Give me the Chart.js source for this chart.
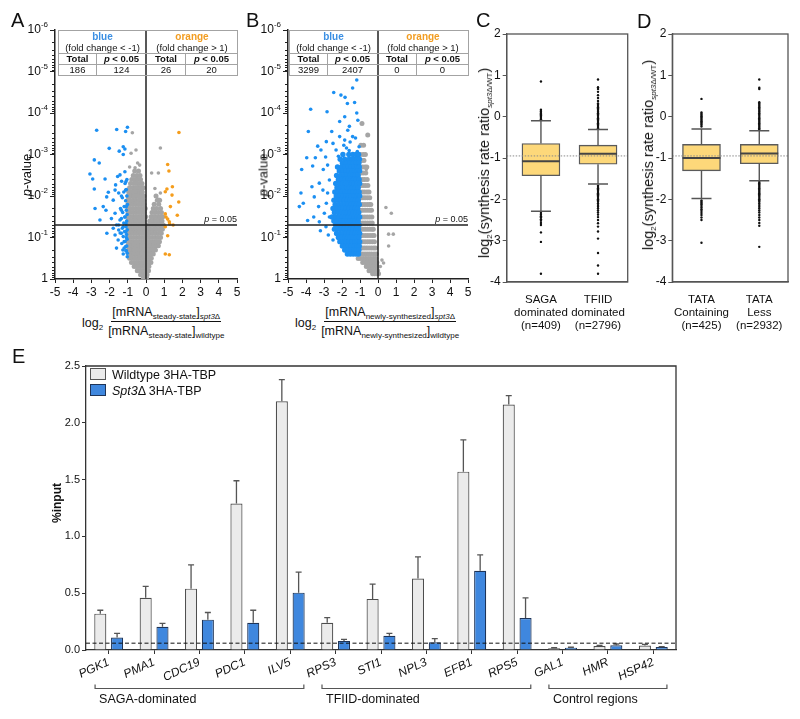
<!DOCTYPE html>
<html>
<head>
<meta charset="utf-8">
<title>Spt3 figure</title>
<script src="https://cdn.jsdelivr.net/npm/chart.js@4.4.1/dist/chart.umd.min.js"></script>
<style>
  body { margin: 0; background: #fff; }
  #fig { position: relative; width: 800px; height: 719px; overflow: hidden; font-family: "Liberation Sans", Arial, sans-serif; color: #111; }
  #fig canvas { position: absolute; }
  .lbl { position: absolute; font-size: 20px; line-height: 20px; }
  .rot { position: absolute; white-space: nowrap; transform: translate(-50%, -50%) rotate(-90deg); }
  .tbl { position: absolute; border-collapse: collapse; table-layout: fixed; font-size: 9.5px; text-align: center; }
  .tbl td { border: 1px solid #a3a3a3; padding: 0; line-height: 10px; white-space: nowrap; }
  .tbl .t1 { border-bottom-style: hidden; font-weight: bold; font-size: 10px; }
  .tbl .b { font-weight: bold; }
  .tbl .l { border-right-color: transparent; }
  .tbl .r { border-left-color: transparent; }
  .xt { position: absolute; display: flex; align-items: center; font-size: 12.5px; white-space: nowrap; }
  .xt .lg { position: relative; top: 1px; margin-right: 5px; }
  .frac { display: inline-flex; flex-direction: column; align-items: center; }
  .frac .num { line-height: 14px; padding: 0 1px 2px; border-bottom: 1px solid #111; }
  .frac .den { line-height: 14px; padding-top: 2px; }
  sub { font-size: 8px; vertical-align: -3px; line-height: 0; }
  .leg { position: absolute; font-size: 12.5px; line-height: 13px; white-space: nowrap; }
  .sw { display: inline-block; width: 14px; height: 10px; border: 1px solid #555; margin-right: 6px; vertical-align: -1px; }
</style>
</head>
<body>
<div id="fig">
  <canvas id="cA" width="245" height="305" style="left:0;top:0"></canvas>
  <canvas id="cB" width="225" height="305" style="left:250px;top:0"></canvas>
  <canvas id="cC" width="150" height="345" style="left:488px;top:0"></canvas>
  <canvas id="cD" width="142" height="345" style="left:654px;top:0"></canvas>
  <canvas id="cE" width="800" height="379" style="left:0;top:340px"></canvas>

  <div class="lbl" style="left:11px;top:10px">A</div>
  <div class="lbl" style="left:246px;top:10px">B</div>
  <div class="lbl" style="left:476px;top:10px">C</div>
  <div class="lbl" style="left:637px;top:11px">D</div>
  <div class="lbl" style="left:12px;top:346px">E</div>

  <table class="tbl" style="left:58px;top:30px;width:179px">
    <colgroup><col style="width:38px"><col style="width:50px"><col style="width:39px"><col style="width:52px"></colgroup>
    <tr style="height:12px"><td colspan="2" class="t1 l" style="color:#3b8fe3">blue</td><td colspan="2" class="t1 r" style="color:#f29d22">orange</td></tr>
    <tr style="height:11px"><td colspan="2" class="l">(fold change &lt; -1)</td><td colspan="2" class="r">(fold change &gt; 1)</td></tr>
    <tr style="height:11px"><td class="b">Total</td><td class="b l"><i>p</i> &lt; 0.05</td><td class="b r">Total</td><td class="b"><i>p</i> &lt; 0.05</td></tr>
    <tr style="height:10px"><td>186</td><td class="l">124</td><td class="r">26</td><td>20</td></tr>
  </table>
  <table class="tbl" style="left:289px;top:30px;width:179px">
    <colgroup><col style="width:38px"><col style="width:50px"><col style="width:39px"><col style="width:52px"></colgroup>
    <tr style="height:12px"><td colspan="2" class="t1 l" style="color:#3b8fe3">blue</td><td colspan="2" class="t1 r" style="color:#f29d22">orange</td></tr>
    <tr style="height:11px"><td colspan="2" class="l">(fold change &lt; -1)</td><td colspan="2" class="r">(fold change &gt; 1)</td></tr>
    <tr style="height:11px"><td class="b">Total</td><td class="b l"><i>p</i> &lt; 0.05</td><td class="b r">Total</td><td class="b"><i>p</i> &lt; 0.05</td></tr>
    <tr style="height:10px"><td>3299</td><td class="l">2407</td><td class="r">0</td><td>0</td></tr>
  </table>

  <div class="rot" style="left:26px;top:175px;font-size:13px"><i>p</i>-value</div>
  <div class="rot" style="left:263px;top:175px;font-size:13px"><i>p</i>-value</div>
  <div class="rot" style="left:484px;top:163px;font-size:14.5px">log<sub>2</sub>(synthesis rate ratio<sub><i>spt3</i>Δ/WT</sub>)</div>
  <div class="rot" style="left:648px;top:155px;font-size:14.5px">log<sub>2</sub>(synthesis rate ratio<sub><i>spt3</i>Δ/WT</sub>)</div>
  <div class="rot" style="left:57px;top:503px;font-size:12px;font-weight:bold">%input</div>

  <div class="xt" style="left:82px;top:305px">
    <span class="lg">log<sub>2</sub></span>
    <span class="frac"><span class="num">[mRNA<sub>steady-state</sub>]<sub><i>spt3</i>Δ</sub></span><span class="den">[mRNA<sub>steady-state</sub>]<sub>wildtype</sub></span></span>
  </div>
  <div class="xt" style="left:295px;top:305px">
    <span class="lg">log<sub>2</sub></span>
    <span class="frac"><span class="num">[mRNA<sub>newly-synthesized</sub>]<sub><i>spt3</i>Δ</sub></span><span class="den">[mRNA<sub>newly-synthesized</sub>]<sub>wildtype</sub></span></span>
  </div>

  <div class="leg" style="left:90px;top:368px"><span class="sw" style="background:#ebebeb"></span>Wildtype 3HA-TBP</div>
  <div class="leg" style="left:90px;top:384px"><span class="sw" style="background:#3f87de;border-color:#1e3458"></span><i>Spt3</i>Δ 3HA-TBP</div>
</div>

<script>
// ---- volcano plots (A, B): [log2 fold change, p-value] ----
const pTicks = [1e-6, 1e-5, 1e-4, 1e-3, 1e-2, 1e-1, 1];
const pExp = ['-6', '-5', '-4', '-3', '-2', '-1', ''];
const pCut = 0.05;

// dense cloud written as [p, [x values at that p]]
const aGrayRows = [
  [0.0025, [-0.62, -0.41]],
  [0.0032, [-0.7, -0.5, -0.33]],
  [0.004, [-0.78, -0.6, -0.45, -0.3]],
  [0.005, [-0.85, -0.66, -0.5, -0.34, -0.22]],
  [0.0063, [-0.9, -0.72, -0.56, -0.41, -0.27, -0.15]],
  [0.008, [-0.95, -0.8, -0.63, -0.47, -0.32, -0.2]],
  [0.01, [-0.98, -0.83, -0.67, -0.52, -0.37, -0.23, -0.12, 0.55]],
  [0.0126, [-1.0, -0.86, -0.7, -0.55, -0.4, -0.26, -0.13, 0.62, 0.75]],
  [0.0158, [-0.99, -0.84, -0.69, -0.54, -0.39, -0.25, -0.11, 0.45, 0.7]],
  [0.02, [-1.0, -0.87, -0.72, -0.57, -0.42, -0.28, -0.14, -0.04, 0.4, 0.58, 0.8]],
  [0.025, [-0.98, -0.83, -0.68, -0.53, -0.38, -0.24, -0.1, 0.33, 0.5, 0.68, 0.85]],
  [0.0316, [-1.0, -0.86, -0.71, -0.56, -0.41, -0.27, -0.13, -0.02, 0.28, 0.45, 0.62, 0.78, 0.92]],
  [0.04, [-0.99, -0.84, -0.69, -0.54, -0.39, -0.25, -0.11, 0.2, 0.38, 0.55, 0.72, 0.88]],
  [0.05, [-1.0, -0.87, -0.72, -0.57, -0.42, -0.28, -0.14, -0.03, 0.14, 0.3, 0.47, 0.64, 0.8, 0.95]],
  [0.063, [-0.98, -0.83, -0.68, -0.53, -0.38, -0.24, -0.1, 0.1, 0.25, 0.42, 0.58, 0.75, 0.9]],
  [0.079, [-1.0, -0.86, -0.71, -0.56, -0.41, -0.27, -0.13, -0.02, 0.08, 0.22, 0.38, 0.54, 0.7, 0.84]],
  [0.1, [-0.97, -0.82, -0.67, -0.52, -0.37, -0.23, -0.09, 0.06, 0.19, 0.34, 0.5, 0.65, 0.8]],
  [0.126, [-0.99, -0.85, -0.7, -0.55, -0.4, -0.26, -0.12, -0.02, 0.05, 0.17, 0.3, 0.45, 0.6, 0.74]],
  [0.158, [-0.98, -0.83, -0.68, -0.53, -0.38, -0.24, -0.1, 0.04, 0.15, 0.28, 0.42, 0.56, 0.68]],
  [0.2, [-0.97, -0.82, -0.67, -0.52, -0.37, -0.23, -0.09, 0.04, 0.14, 0.26, 0.39, 0.52]],
  [0.25, [-0.95, -0.8, -0.65, -0.5, -0.36, -0.22, -0.08, 0.05, 0.15, 0.27, 0.4]],
  [0.316, [-0.9, -0.75, -0.6, -0.46, -0.32, -0.19, -0.06, 0.06, 0.17, 0.29]],
  [0.4, [-0.8, -0.66, -0.52, -0.39, -0.26, -0.13, -0.02, 0.08, 0.18, 0.27]],
  [0.5, [-0.65, -0.52, -0.4, -0.28, -0.16, -0.05, 0.06, 0.16]],
  [0.63, [-0.48, -0.36, -0.25, -0.14, -0.04, 0.06, 0.14]],
  [0.79, [-0.3, -0.2, -0.1, -0.02, 0.06]],
  [0.95, [-0.14, -0.05, 0.03]]
];
const aGraySparse = [
  [-0.75, 3e-4], [-0.55, 7.8e-4], [-0.82, 9.3e-4], [-0.46, 1.6e-3], [-0.6, 2.1e-3], [0.79, 7e-4],
  [0.31, 2.8e-3], [0.68, 2.8e-3], [0.49, 6.6e-3], [0.79, 8.5e-3], [0.68, 1.2e-2], [-0.5, 3.7e-3],
  [-0.65, 4.9e-3], [-0.42, 6e-3], [-0.9, 2e-3], [-0.35, 1.8e-3]
];
const aBlue = [
  [-2.71, 2.6e-4], [-1.61, 2.5e-4], [-1.02, 2.2e-4], [-1.12, 2.8e-4], [-2.02, 7.1e-4], [-1.47, 8.3e-4],
  [-1.25, 6.5e-4], [-1.16, 7.4e-4], [-1.25, 1.0e-3], [-2.84, 1.35e-3], [-2.57, 1.6e-3], [-3.08, 2.95e-3],
  [-2.93, 3.9e-3], [-2.25, 3.9e-3], [-2.84, 6.8e-3], [-1.43, 3.1e-3], [-1.56, 3.4e-3], [-1.16, 2.6e-3],
  [-1.34, 4.4e-3], [-1.67, 5.4e-3], [-1.1, 4.5e-3], [-2.07, 8.1e-3], [-2.16, 0.0105], [-1.7, 7.2e-3],
  [-1.5, 8.5e-3], [-1.8, 0.0126], [-1.35, 0.01], [-1.12, 7.2e-3], [-2.35, 0.018], [-2.2, 0.022],
  [-2.8, 0.02], [-2.53, 0.038], [-1.9, 0.035], [-1.7, 0.026], [-1.35, 0.022], [-1.08, 0.018],
  [-1.16, 0.032], [-1.43, 0.038], [-1.62, 0.05], [-1.25, 0.055], [-1.1, 0.046], [-2.15, 0.079],
  [-1.7, 0.087], [-1.35, 0.079], [-1.1, 0.072], [-1.53, 0.115], [-1.2, 0.126], [-1.62, 0.18],
  [-1.27, 0.2], [-1.12, 0.166], [-1.25, 0.25], [-1.08, 0.21], [-1.03, 0.29], [-1.8, 0.06],
  [-1.08, 0.1], [-1.5, 0.066],
  [-1.05, 0.004], [-1.15, 0.005], [-1.08, 0.007], [-1.22, 0.008], [-1.05, 0.01], [-1.3, 0.011],
  [-1.12, 0.013], [-1.02, 0.016], [-1.2, 0.018], [-1.4, 0.02], [-1.08, 0.022], [-1.28, 0.025],
  [-1.04, 0.028], [-1.16, 0.032], [-1.35, 0.035], [-1.06, 0.04], [-1.22, 0.045], [-1.5, 0.05],
  [-1.1, 0.055], [-1.3, 0.06], [-1.03, 0.065], [-1.18, 0.072], [-1.42, 0.078], [-1.07, 0.085],
  [-1.25, 0.095], [-1.04, 0.11], [-1.15, 0.125], [-1.33, 0.14], [-1.06, 0.16], [-1.2, 0.18],
  [-1.1, 0.21], [-1.03, 0.24]
];
const aOrange = [
  [1.81, 2.95e-4], [1.19, 1.74e-3], [1.26, 2.5e-3], [1.45, 6e-3], [1.15, 6.8e-3], [1.06, 7.9e-3],
  [1.43, 9.5e-3], [1.8, 0.014], [1.34, 0.018], [1.06, 0.027], [1.1, 0.032], [1.19, 0.036],
  [1.28, 0.042], [1.3, 0.047], [1.72, 0.029], [1.49, 0.05], [1.06, 0.055], [1.19, 0.091],
  [1.06, 0.25], [1.28, 0.26]
];

const bGrayRows = [
  [1.8e-4, [-0.89]],
  [3.4e-4, [-0.57]],
  [6e-4, [-0.95, -0.8]],
  [1e-3, [-0.97, -0.82, -0.7]],
  [1.4e-3, [-0.92, -0.78]],
  [2e-3, [-0.98, -0.85, -0.72, -0.62]],
  [2.8e-3, [-0.95, -0.82, -0.68]],
  [4e-3, [-0.98, -0.86, -0.74, -0.6]],
  [5.6e-3, [-0.96, -0.83, -0.7, -0.56]],
  [8e-3, [-0.98, -0.86, -0.74, -0.61, -0.5]],
  [0.011, [-0.97, -0.84, -0.72, -0.59, -0.46]],
  [0.016, [-0.98, -0.86, -0.73, -0.6, -0.48, -0.4]],
  [0.022, [-0.97, -0.85, -0.72, -0.59, -0.46, -0.36]],
  [0.032, [-0.98, -0.86, -0.73, -0.6, -0.47, -0.34]],
  [0.045, [-0.97, -0.84, -0.71, -0.58, -0.45, -0.32]],
  [0.063, [-0.98, -0.85, -0.72, -0.59, -0.46, -0.33, -0.26]],
  [0.09, [-0.97, -0.84, -0.7, -0.57, -0.44, -0.31, -0.22]],
  [0.126, [-0.98, -0.85, -0.72, -0.58, -0.45, -0.32, -0.2]],
  [0.18, [-0.98, -0.86, -0.74, -0.62, -0.5, -0.37, -0.24, -0.14]],
  [0.25, [-0.96, -0.84, -0.72, -0.6, -0.48, -0.36, -0.22, -0.1]],
  [0.32, [-1.1, -0.96, -0.82, -0.68, -0.54, -0.4, -0.26, -0.12]],
  [0.4, [-0.85, -0.72, -0.58, -0.45, -0.32, -0.19, -0.06]],
  [0.5, [-0.65, -0.52, -0.4, -0.28, -0.16, -0.04]],
  [0.63, [-0.5, -0.38, -0.26, -0.14, -0.02]],
  [0.75, [-0.3, -0.18, -0.07, 0.03]]
];
const bGraySparse = [
  [0.44, 0.019], [0.74, 0.026], [0.59, 0.083], [0.85, 0.083], [0.59, 0.16], [0.22, 0.35],
  [0.31, 0.41], [0.13, 0.5], [-0.78, 1.35e-3], [-0.65, 2.3e-3]
];
const bBlueRows = [
  [1e-3, [-1.95, -1.62, -1.4, -1.22, -1.08]],
  [1.3e-3, [-2.1, -1.85, -1.6, -1.45, -1.3, -1.15, -1.03]],
  [1.6e-3, [-1.98, -1.76, -1.55, -1.38, -1.22, -1.06]],
  [2e-3, [-2.25, -2.02, -1.84, -1.67, -1.5, -1.34, -1.18, -1.04]],
  [2.5e-3, [-2.15, -1.95, -1.78, -1.62, -1.46, -1.3, -1.15, -1.02]],
  [3.2e-3, [-2.3, -2.08, -1.9, -1.73, -1.57, -1.41, -1.26, -1.1]],
  [4e-3, [-2.2, -2.02, -1.85, -1.68, -1.52, -1.36, -1.2, -1.05]],
  [5e-3, [-2.35, -2.14, -1.96, -1.8, -1.63, -1.47, -1.31, -1.16, -1.02]],
  [6.3e-3, [-2.28, -2.08, -1.91, -1.74, -1.58, -1.42, -1.26, -1.1]],
  [8e-3, [-2.4, -2.2, -2.02, -1.85, -1.69, -1.53, -1.37, -1.21, -1.05]],
  [0.01, [-2.32, -2.13, -1.96, -1.79, -1.63, -1.47, -1.31, -1.15, -1.02]],
  [0.0126, [-2.45, -2.24, -2.06, -1.89, -1.73, -1.57, -1.41, -1.25, -1.09]],
  [0.016, [-2.38, -2.18, -2.0, -1.83, -1.67, -1.51, -1.35, -1.19, -1.04]],
  [0.02, [-2.5, -2.28, -2.1, -1.93, -1.77, -1.61, -1.45, -1.29, -1.13]],
  [0.025, [-2.42, -2.22, -2.04, -1.87, -1.71, -1.55, -1.39, -1.23, -1.07]],
  [0.032, [-2.55, -2.33, -2.14, -1.97, -1.81, -1.65, -1.49, -1.33, -1.17, -1.02]],
  [0.04, [-2.45, -2.25, -2.07, -1.9, -1.74, -1.58, -1.42, -1.26, -1.1]],
  [0.05, [-2.36, -2.17, -2.0, -1.84, -1.68, -1.52, -1.36, -1.2, -1.05]],
  [0.063, [-2.42, -2.22, -2.04, -1.87, -1.71, -1.55, -1.39, -1.23, -1.08]],
  [0.08, [-2.3, -2.1, -1.93, -1.77, -1.61, -1.45, -1.29, -1.13, -1.02]],
  [0.1, [-2.2, -2.02, -1.85, -1.69, -1.53, -1.37, -1.21, -1.06]],
  [0.126, [-2.12, -1.94, -1.77, -1.61, -1.45, -1.29, -1.14, -1.02]],
  [0.16, [-1.98, -1.8, -1.64, -1.48, -1.32, -1.17, -1.04]],
  [0.2, [-1.85, -1.67, -1.51, -1.35, -1.2, -1.06]],
  [0.25, [-1.7, -1.54, -1.38, -1.22, -1.08]]
];
const bBlueSparse = [
  [-1.18, 1.6e-5], [-1.41, 2.5e-5], [-2.46, 3.2e-5], [-2.06, 3.7e-5], [-1.83, 4.2e-5], [-1.7, 5.9e-5],
  [-1.3, 5.6e-5], [-3.74, 8.1e-5], [-2.83, 9.3e-5], [-1.85, 1.23e-4], [-2.13, 1.6e-4], [-1.18, 1.0e-4],
  [-1.12, 1.5e-4], [-1.59, 2.1e-4], [-3.87, 2.8e-4], [-2.57, 2.8e-4], [-2.13, 3.7e-4], [-1.68, 2.6e-4],
  [-2.87, 4.9e-4], [-3.35, 6.3e-4], [-2.5, 5.4e-4], [-1.85, 4.5e-4], [-1.41, 3.7e-4], [-3.17, 7.8e-4],
  [-2.33, 7.8e-4], [-3.48, 1.2e-3], [-3.96, 1.2e-3], [-2.91, 1.15e-3], [-4.24, 2.3e-3], [-3.63, 1.9e-3],
  [-3.04, 2.3e-3], [-2.8, 1.8e-3], [-3.67, 6e-3], [-3.26, 4.9e-3], [-4.28, 8.5e-3], [-4.37, 0.018],
  [-4.15, 0.015], [-3.54, 0.0105], [-3.91, 0.039], [-3.57, 0.032], [-3.3, 0.018], [-3.26, 0.042],
  [-3.2, 0.069], [-2.89, 0.055], [-2.76, 0.087], [-2.5, 0.115], [-2.33, 0.079], [-2.98, 0.026],
  [-2.7, 0.032], [-2.87, 0.015], [-3.06, 7.2e-3], [-2.7, 4.1e-3], [-2.8, 8.5e-3],
  [-1.9, 6e-4], [-1.55, 5e-4], [-1.25, 4e-4], [-1.05, 6.5e-4], [-1.6, 8e-4], [-1.15, 8.5e-4],
  [-2.2, 1.1e-3], [-1.75, 7e-4]
];
const bOrange = [];

// ---- box plots (C, D): log2 synthesis rate ratio ----
const refLine = -0.95;
const cLabels = [['SAGA', 'dominated', '(n=409)'], ['TFIID', 'dominated', '(n=2796)']];
const cQ1 = [-1.43, -1.15];
const cQ3 = [-0.65, -0.69];
const cMed = [-1.08, -0.9];
const cLo = [-2.29, -1.63];
const cHi = [-0.1, -0.31];
const cOut = [
  [0.85, 0.17, 0.14, 0.12, 0.09, 0.07, 0.05, 0.03, 0.0, -0.03, -0.06,
   -2.33, -2.37, -2.41, -2.44, -2.48, -2.52, -2.57, -2.62, -2.8, -3.03, -3.8],
  [0.9, 0.71, 0.67, 0.6, 0.52, 0.45, 0.38, 0.32, 0.29, 0.26, 0.23, 0.2, 0.17, 0.14, 0.11, 0.08, 0.05,
   0.02, -0.01, -0.04, -0.07, -0.1, -0.13, -0.16, -0.19, -0.22, -0.25, -0.28,
   -1.67, -1.7, -1.73, -1.76, -1.79, -1.82, -1.85, -1.88, -1.91, -1.94, -1.97, -2.0, -2.03, -2.06,
   -2.1, -2.14, -2.18, -2.22, -2.27, -2.32, -2.37, -2.43, -2.5, -2.58, -2.66, -2.78, -2.95, -3.3, -3.6, -3.8]
];
const dLabels = [['TATA', 'Containing', '(n=425)'], ['TATA', 'Less', '(n=2932)']];
const dQ1 = [-1.31, -1.14];
const dQ3 = [-0.67, -0.67];
const dMed = [-1.0, -0.89];
const dLo = [-1.98, -1.55];
const dHi = [-0.3, -0.34];
const dOut = [
  [0.43, 0.1, 0.07, 0.04, 0.01, -0.02, -0.05, -0.08, -0.11, -0.14, -0.17, -0.2, -0.24,
   -2.03, -2.06, -2.09, -2.12, -2.16, -2.2, -2.24, -2.28, -2.33, -2.38, -2.44, -2.5, -3.05],
  [0.9, 0.7, 0.67, 0.35, 0.32, 0.29, 0.26, 0.23, 0.2, 0.17, 0.14, 0.11, 0.08, 0.05, 0.02, -0.01,
   -0.04, -0.07, -0.1, -0.13, -0.16, -0.19, -0.22, -0.25, -0.28, -0.31,
   -1.58, -1.61, -1.64, -1.67, -1.7, -1.73, -1.76, -1.79, -1.82, -1.85, -1.88, -1.91, -1.94, -1.97,
   -2.0, -2.03, -2.06, -2.1, -2.14, -2.18, -2.22, -2.27, -2.32, -2.38, -2.44, -2.5, -2.57, -2.64, -3.15]
];

// ---- ChIP bars (E): %input ----
const genes = ['PGK1', 'PMA1', 'CDC19', 'PDC1', 'ILV5', 'RPS3', 'STI1', 'NPL3', 'EFB1', 'RPS5', 'GAL1', 'HMR', 'HSP42'];
const wtMean = [0.32, 0.46, 0.54, 1.29, 2.19, 0.24, 0.45, 0.63, 1.57, 2.16, 0.015, 0.035, 0.04];
const wtErr = [0.03, 0.1, 0.21, 0.2, 0.19, 0.045, 0.13, 0.19, 0.28, 0.08, 0.005, 0.006, 0.01];
const koMean = [0.11, 0.205, 0.267, 0.24, 0.505, 0.08, 0.126, 0.068, 0.698, 0.282, 0.02, 0.041, 0.026];
const koErr = [0.037, 0.03, 0.063, 0.11, 0.18, 0.014, 0.021, 0.032, 0.14, 0.176, 0.004, 0.012, 0.003];
const eThreshold = 0.06;
const groupNames = ['SAGA-dominated', 'TFIID-dominated', 'Control regions'];
const groupFirst = [0, 5, 10];
const groupLast = [4, 9, 12];

const FONT = '"Liberation Sans", Arial, sans-serif';
Chart.defaults.font.family = FONT;
Chart.defaults.color = '#111';
Chart.defaults.animation = false;
Chart.defaults.responsive = false;
Chart.defaults.devicePixelRatio = 1;
Chart.defaults.plugins.legend.display = false;
Chart.defaults.plugins.tooltip.enabled = false;

const fromRows = rows => rows.flatMap(([p, xs]) => xs.map(x => ({ x, y: p })));
const fromPairs = pts => pts.map(([x, p]) => ({ x, y: p }));

// 10^n labels, minor log ticks, cut-off lines
const volcanoExtras = {
  id: 'volcanoExtras',
  afterDatasetsDraw(chart) {
    const { ctx, chartArea: a, scales: { x, y } } = chart;
    const x0 = x.getPixelForValue(0), yp = y.getPixelForValue(pCut);
    ctx.save();
    ctx.strokeStyle = '#222';
    ctx.lineWidth = 1.5;
    ctx.beginPath();
    ctx.moveTo(x0, a.top); ctx.lineTo(x0, a.bottom);
    ctx.moveTo(a.left, yp); ctx.lineTo(a.right, yp);
    ctx.stroke();

    ctx.fillStyle = '#111';
    ctx.textAlign = 'right';
    ctx.textBaseline = 'bottom';
    const tail = ' = ' + pCut;
    ctx.font = '9px ' + FONT;
    ctx.fillText(tail, a.right, yp - 1);
    const tw = ctx.measureText(tail).width;
    ctx.font = 'italic 9px ' + FONT;
    ctx.fillText('p', a.right - tw, yp - 1);
    ctx.restore();
  },
  afterDraw(chart) {
    const { ctx, chartArea: a, scales: { y } } = chart;
    ctx.save();
    ctx.strokeStyle = '#222';
    ctx.lineWidth = 1;
    ctx.beginPath();
    for (let k = 0; k < pTicks.length - 1; k++) {
      for (let m = 2; m < 10; m++) {
        const py = Math.round(y.getPixelForValue(pTicks[k] * m)) + 0.5;
        ctx.moveTo(a.left - 3, py); ctx.lineTo(a.left, py);
      }
    }
    ctx.stroke();
    ctx.fillStyle = '#111';
    ctx.textAlign = 'right';
    ctx.textBaseline = 'middle';
    const right = a.left - 7;
    pTicks.forEach((v, i) => {
      const py = y.getPixelForValue(v);
      if (!pExp[i]) {
        ctx.font = '12px ' + FONT;
        ctx.fillText('1', right, py);
        return;
      }
      ctx.font = '8px ' + FONT;
      ctx.fillText(pExp[i], right, py - 5);
      const w = ctx.measureText(pExp[i]).width;
      ctx.font = '12px ' + FONT;
      ctx.fillText('10', right - w, py);
    });
    ctx.restore();
  }
};

const BLUE = '#1b8ff2', ORANGE = '#f59d1c', GRAY = '#a5a5a5';

function volcano(id, yAxisW, padRight, sets) {
  return new Chart(document.getElementById(id), {
    type: 'scatter',
    data: {
      datasets: sets.map(s => ({ data: s.data, backgroundColor: s.color, pointRadius: s.r,
                                 borderWidth: 0, order: s.color === GRAY ? 2 : 1 }))
    },
    options: {
      layout: { padding: { top: 30, right: padRight, left: 0, bottom: 0 } },
      scales: {
        x: {
          type: 'linear', min: -5, max: 5,
          afterFit: s => { s.height = 26; },
          ticks: { stepSize: 1, font: { size: 12 }, padding: 2, color: '#111' },
          grid: { drawOnChartArea: false, tickLength: 4, color: '#222' },
          border: { color: '#222', width: 1.5 }
        },
        y: {
          type: 'logarithmic', min: 1e-6, max: 1, reverse: true,
          afterFit: s => { s.width = yAxisW; },
          afterBuildTicks: s => { s.ticks = pTicks.map(v => ({ value: v })); },
          ticks: { display: false },
          grid: { drawOnChartArea: false, tickLength: 5, color: '#222' },
          border: { color: '#222', width: 1.5 }
        }
      }
    },
    plugins: [volcanoExtras]
  });
}

volcano('cA', 55, 8, [
  { data: fromPairs(aBlue), color: BLUE, r: 1.8 },
  { data: fromPairs(aOrange), color: ORANGE, r: 1.8 },
  { data: fromRows(aGrayRows), color: GRAY, r: 2.5 },
  { data: fromPairs(aGraySparse), color: GRAY, r: 1.8 }
]);
volcano('cB', 38, 7, [
  { data: fromRows(bBlueRows), color: BLUE, r: 2.7 },
  { data: fromPairs(bBlueSparse), color: BLUE, r: 1.8 },
  { data: fromPairs(bOrange), color: ORANGE, r: 1.8 },
  { data: fromRows(bGrayRows), color: GRAY, r: 2.5 },
  { data: fromPairs(bGraySparse), color: GRAY, r: 1.8 }
]);

// whiskers, medians, reference line and frame for the box plots
const boxParts = {
  id: 'boxParts',
  afterDatasetsDraw(chart, args, o) {
    const { ctx, chartArea: a, scales: { x, y } } = chart;
    const half = 19;
    ctx.save();
    o.med.forEach((m, i) => {
      const cx = x.getPixelForValue(i);
      ctx.strokeStyle = '#555';
      ctx.lineWidth = 1.4;
      ctx.beginPath();
      ctx.moveTo(cx, y.getPixelForValue(o.q3[i])); ctx.lineTo(cx, y.getPixelForValue(o.hi[i]));
      ctx.moveTo(cx, y.getPixelForValue(o.q1[i])); ctx.lineTo(cx, y.getPixelForValue(o.lo[i]));
      [o.hi[i], o.lo[i]].forEach(v => {
        const py = y.getPixelForValue(v);
        ctx.moveTo(cx - 10, py); ctx.lineTo(cx + 10, py);
      });
      ctx.stroke();
      ctx.strokeStyle = '#444';
      ctx.lineWidth = 2;
      const pm = y.getPixelForValue(m);
      ctx.beginPath();
      ctx.moveTo(cx - half, pm); ctx.lineTo(cx + half, pm);
      ctx.stroke();
    });
    const pr = y.getPixelForValue(refLine);
    ctx.setLineDash([1.5, 1.5]);
    ctx.strokeStyle = '#8a8a8a';
    ctx.lineWidth = 1;
    ctx.beginPath();
    ctx.moveTo(a.left, pr); ctx.lineTo(a.right, pr);
    ctx.stroke();
    ctx.setLineDash([]);
    ctx.strokeStyle = '#555';
    ctx.lineWidth = 1.3;
    ctx.strokeRect(a.left, a.top, a.right - a.left, a.bottom - a.top);
    ctx.restore();
  }
};

function boxPlot(id, labels, q1, q3, med, lo, hi, outliers, xMin, xMax, yAxisW, padRight) {
  const boxes = q1.map((v, i) => ({ x: i, y: [v, q3[i]] }));
  const pts = outliers.flatMap((vals, i) => vals.map(v => ({ x: i, y: v })));
  return new Chart(document.getElementById(id), {
    type: 'bar',
    data: {
      datasets: [
        { type: 'bar', data: boxes, backgroundColor: '#fdd87a', borderColor: '#5a5a5a', borderWidth: 1.4,
          borderSkipped: false, barThickness: 38, order: 2 },
        { type: 'scatter', data: pts, backgroundColor: '#111', pointRadius: 1.2, borderWidth: 0, order: 1 }
      ]
    },
    options: {
      layout: { padding: { top: 34, right: padRight, left: 0, bottom: 0 } },
      scales: {
        x: {
          type: 'linear', min: xMin, max: xMax, offset: false,
          afterFit: s => { s.height = 63; },
          afterBuildTicks: s => { s.ticks = labels.map((l, i) => ({ value: i })); },
          ticks: { callback: (v, i) => labels[i], font: { size: 11.5, lineHeight: 1.1 }, padding: 4,
                   color: '#111', maxRotation: 0, autoSkip: false },
          grid: { display: false },
          border: { color: '#555', width: 1.3 }
        },
        y: {
          min: -4, max: 2,
          afterFit: s => { s.width = yAxisW; },
          ticks: { stepSize: 1, font: { size: 12 }, padding: 2, color: '#111' },
          grid: { drawOnChartArea: false, tickLength: 4, color: '#555' },
          border: { color: '#555', width: 1.3 }
        }
      },
      plugins: { boxParts: { q1, q3, med, lo, hi } }
    },
    plugins: [boxParts]
  });
}

boxPlot('cC', cLabels, cQ1, cQ3, cMed, cLo, cHi, cOut, -0.6, 1.52, 18.7, 10.3);
boxPlot('cD', dLabels, dQ1, dQ3, dMed, dLo, dHi, dOut, -0.505, 1.497, 18.3, 8);

// error bars, threshold, frame and gene-group brackets
const eExtras = {
  id: 'eExtras',
  afterDatasetsDraw(chart) {
    const { ctx, chartArea: a, scales: { y } } = chart;
    ctx.save();
    ctx.strokeStyle = '#555';
    ctx.lineWidth = 1.3;
    [wtErr, koErr].forEach((err, d) => {
      const vals = chart.data.datasets[d].data;
      chart.getDatasetMeta(d).data.forEach((bar, i) => {
        const top = y.getPixelForValue(vals[i] + err[i]);
        ctx.beginPath();
        ctx.moveTo(bar.x, bar.y); ctx.lineTo(bar.x, top);
        ctx.moveTo(bar.x - 3, top); ctx.lineTo(bar.x + 3, top);
        ctx.stroke();
      });
    });
    const py = y.getPixelForValue(eThreshold);
    ctx.strokeStyle = '#111';
    ctx.lineWidth = 1;
    ctx.setLineDash([4, 2.5]);
    ctx.beginPath();
    ctx.moveTo(a.left, py); ctx.lineTo(a.right, py);
    ctx.stroke();
    ctx.setLineDash([]);
    ctx.strokeStyle = '#333';
    ctx.lineWidth = 1.3;
    ctx.beginPath();
    ctx.moveTo(a.left, a.top); ctx.lineTo(a.right, a.top); ctx.lineTo(a.right, a.bottom);
    ctx.stroke();
    ctx.restore();
  },
  afterDraw(chart) {
    const { ctx, chartArea: a, scales: { x } } = chart;
    const cat = x.getPixelForValue(1) - x.getPixelForValue(0);
    const by = a.bottom + 38.5;
    ctx.save();
    ctx.strokeStyle = '#555';
    ctx.lineWidth = 1.2;
    ctx.fillStyle = '#111';
    ctx.font = '12.5px ' + FONT;
    ctx.textAlign = 'left';
    ctx.textBaseline = 'middle';
    groupNames.forEach((name, g) => {
      const xs = x.getPixelForValue(groupFirst[g]) - 0.3 * cat;
      const xe = x.getPixelForValue(groupLast[g]) + 0.3 * cat;
      ctx.beginPath();
      ctx.moveTo(xs, by - 4); ctx.lineTo(xs, by); ctx.lineTo(xe, by); ctx.lineTo(xe, by - 4);
      ctx.stroke();
      ctx.fillText(name, xs + 4, by + 11);
    });
    ctx.restore();
  }
};

new Chart(document.getElementById('cE'), {
  type: 'bar',
  data: {
    labels: genes,
    datasets: [
      { label: 'Wildtype 3HA-TBP', data: wtMean, backgroundColor: '#ebebeb', borderColor: '#4d4d4d',
        borderWidth: 1.2, categoryPercentage: 0.74, barPercentage: 0.72 },
      { label: 'Spt3Δ 3HA-TBP', data: koMean, backgroundColor: '#3f87de', borderColor: '#1e3458',
        borderWidth: 1.2, categoryPercentage: 0.74, barPercentage: 0.72 }
    ]
  },
  options: {
    layout: { padding: { top: 26, right: 124, left: 0, bottom: 0 } },
    scales: {
      x: {
        afterFit: s => { s.height = 69; },
        ticks: { font: { size: 12, style: 'italic' }, color: '#111', minRotation: 25, maxRotation: 25,
                 padding: 1, autoSkip: false },
        grid: { offset: false, drawOnChartArea: false, tickLength: 4, color: '#333' },
        border: { color: '#333', width: 1.3 }
      },
      y: {
        min: 0, max: 2.5,
        afterFit: s => { s.width = 86; },
        ticks: { stepSize: 0.5, callback: v => v.toFixed(1), font: { size: 11 }, padding: 2, color: '#111' },
        grid: { drawOnChartArea: false, tickLength: 4, color: '#333' },
        border: { color: '#333', width: 1.3 }
      }
    }
  },
  plugins: [eExtras]
});
</script>
</body>
</html>
